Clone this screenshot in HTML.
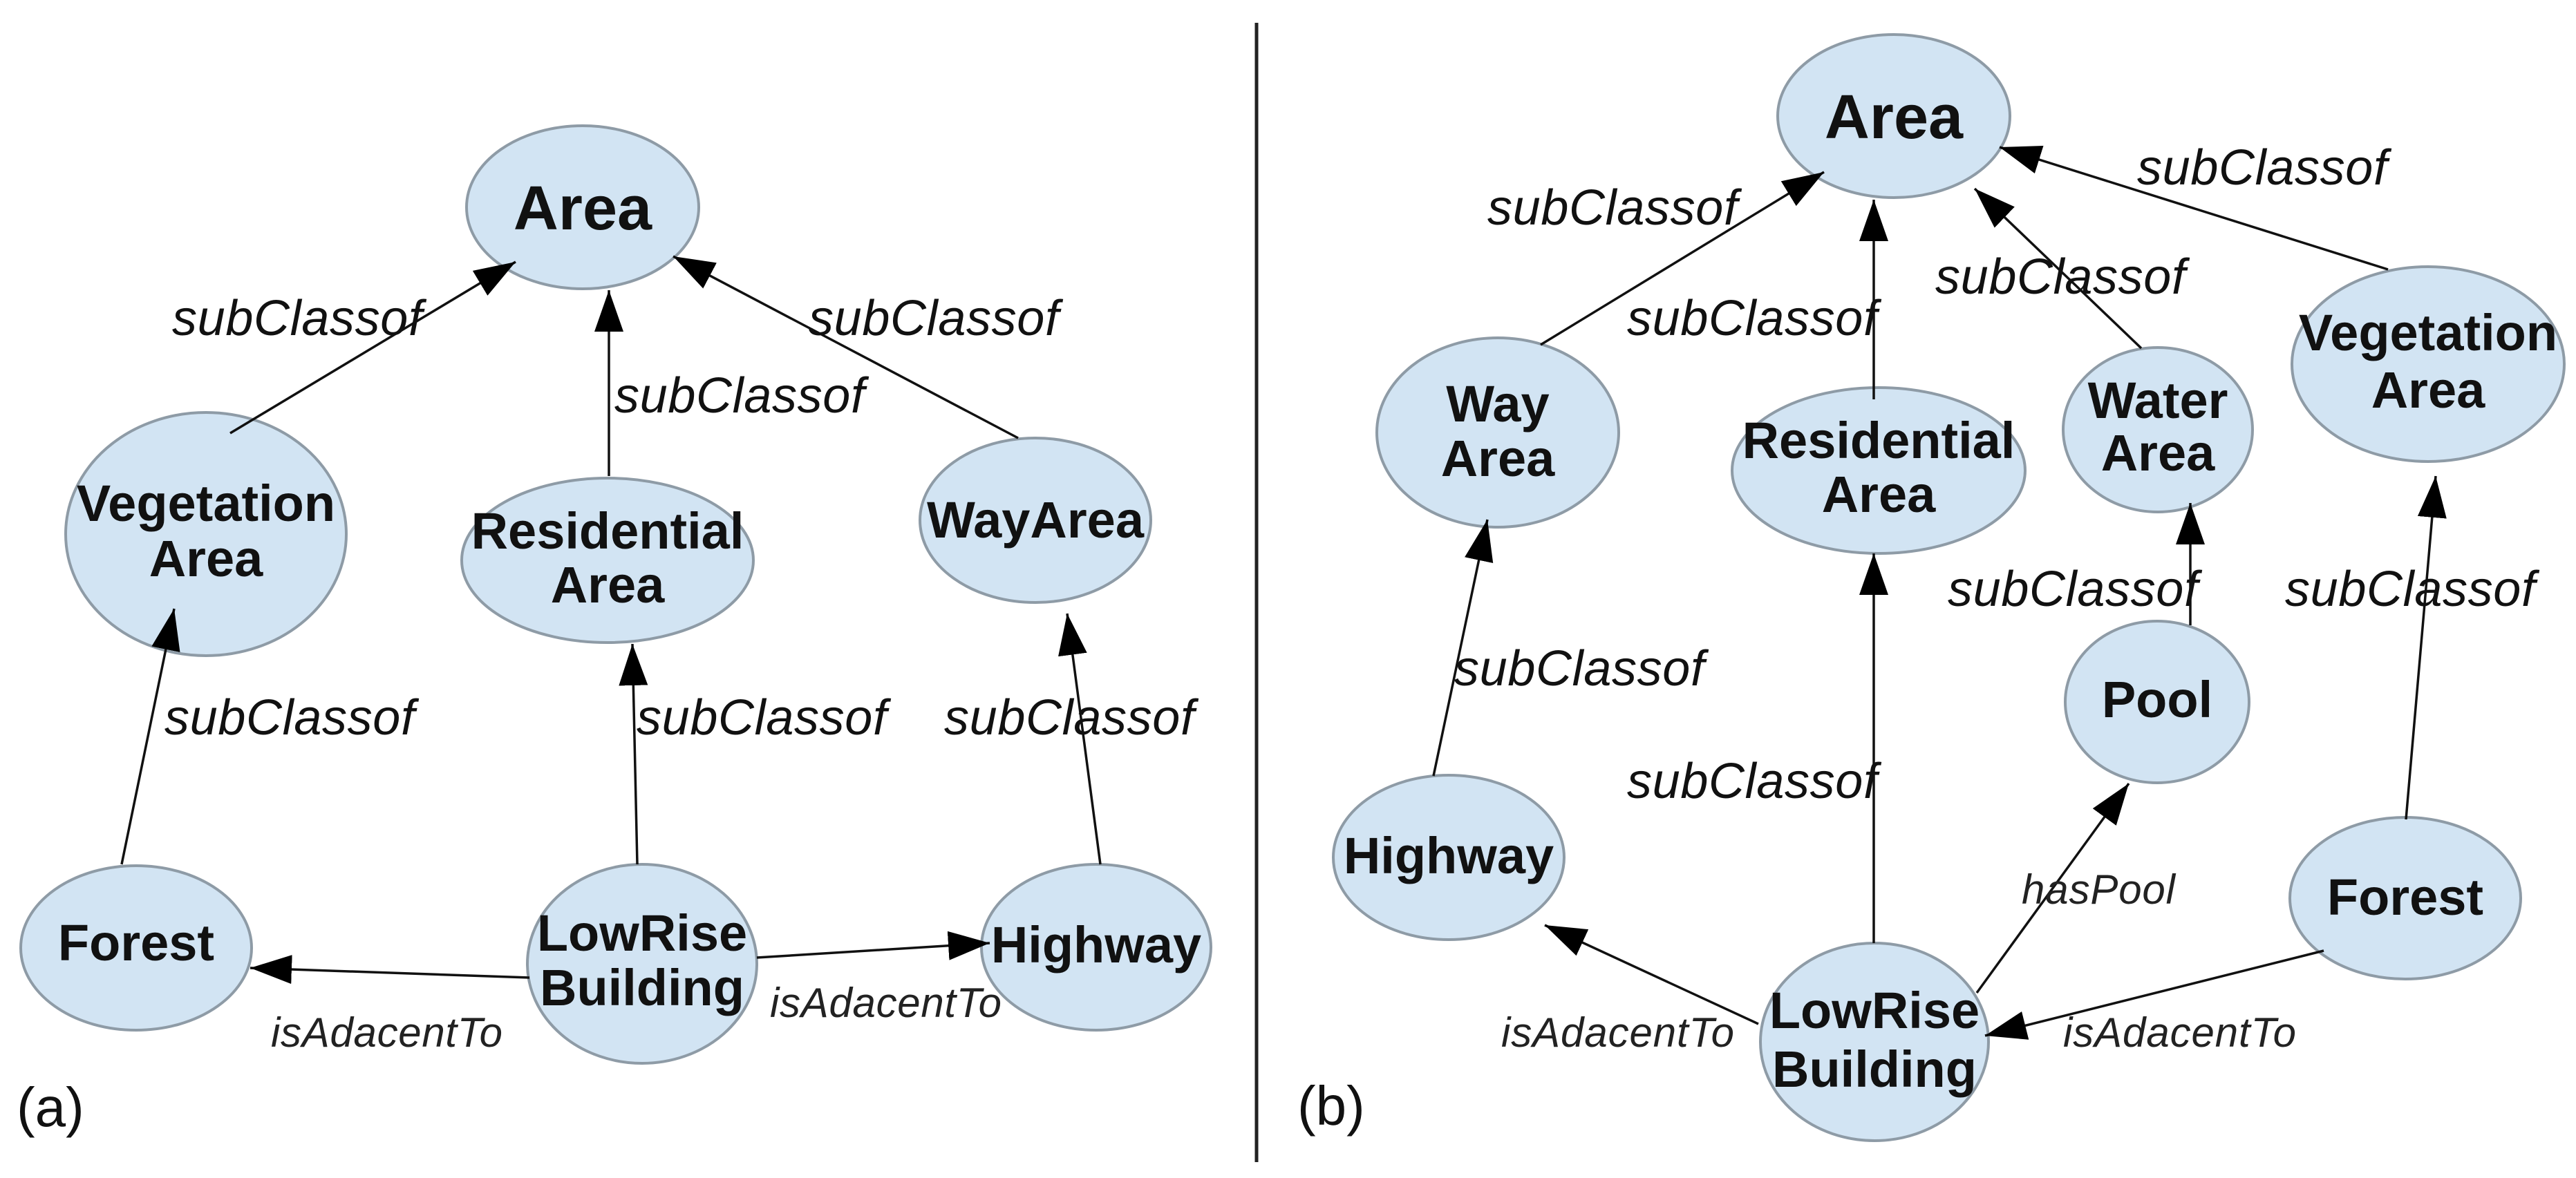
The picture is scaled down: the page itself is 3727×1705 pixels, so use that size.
<!DOCTYPE html>
<html><head><meta charset="utf-8"><style>
html,body{margin:0;padding:0;background:#fff;}
svg{display:block;}
.n{fill:#d2e4f3;stroke:#8e9ba6;stroke-width:4;}
.t{font-family:"Liberation Sans",sans-serif;font-weight:bold;font-size:74px;fill:#111;text-anchor:middle;}
.big{font-size:90px;}
.e{stroke:#111;stroke-width:3.5;fill:none;marker-end:url(#ah);}
.l{font-family:"Liberation Sans",sans-serif;font-style:italic;font-size:72px;fill:#111;}
.s{font-size:60px;fill:#222;}
.p{font-family:"Liberation Sans",sans-serif;font-size:80px;fill:#111;}
</style></head><body>
<svg width="3727" height="1705" viewBox="0 0 3727 1705" xmlns="http://www.w3.org/2000/svg">
<defs>
<marker id="ah" markerUnits="userSpaceOnUse" markerWidth="62" markerHeight="44" refX="60" refY="21" orient="auto">
<path d="M0,0 L60,21 L0,42 z" fill="#000"/>
</marker>
</defs>
<rect width="3727" height="1705" fill="#fff"/>
<line x1="1818" y1="33" x2="1818" y2="1682" stroke="#222" stroke-width="5"/>

<!-- LEFT PANEL -->
<ellipse class="n" cx="843" cy="300" rx="168" ry="118"/>
<ellipse class="n" cx="298" cy="773" rx="203" ry="176"/>
<ellipse class="n" cx="879" cy="811" rx="211" ry="119"/>
<ellipse class="n" cx="1498" cy="753" rx="167" ry="119"/>
<ellipse class="n" cx="197" cy="1372" rx="167" ry="119"/>
<ellipse class="n" cx="929" cy="1395" rx="166" ry="144"/>
<ellipse class="n" cx="1586" cy="1371" rx="166" ry="120"/>

<line class="e" x1="333" y1="627" x2="746" y2="379"/>
<line class="e" x1="881" y1="689" x2="881" y2="420"/>
<line class="e" x1="1473" y1="634" x2="974" y2="371"/>
<line class="e" x1="176" y1="1251" x2="252" y2="881"/>
<line class="e" x1="922" y1="1251" x2="915" y2="932"/>
<line class="e" x1="1592" y1="1251" x2="1544" y2="888"/>
<line class="e" x1="766" y1="1415" x2="362" y2="1401"/>
<line class="e" x1="1095" y1="1386" x2="1432" y2="1365"/>

<text class="t big" x="843" y="332">Area</text>
<text class="t" x="298" y="754">Vegetation</text>
<text class="t" x="298" y="834">Area</text>
<text class="t" x="879" y="794">Residential</text>
<text class="t" x="879" y="872">Area</text>
<text class="t" x="1498" y="778">WayArea</text>
<text class="t" x="197" y="1390">Forest</text>
<text class="t" x="929" y="1376">LowRise</text>
<text class="t" x="929" y="1455">Building</text>
<text class="t" x="1586" y="1393">Highway</text>

<text class="l" x="249" y="485" textLength="362">subClassof</text>
<text class="l" x="889" y="597" textLength="362">subClassof</text>
<text class="l" x="1170" y="485" textLength="362">subClassof</text>
<text class="l" x="238" y="1063" textLength="362">subClassof</text>
<text class="l" x="921" y="1063" textLength="362">subClassof</text>
<text class="l" x="1366" y="1063" textLength="362">subClassof</text>
<text class="l s" x="392" y="1515" textLength="335">isAdacentTo</text>
<text class="l s" x="1114" y="1472" textLength="335">isAdacentTo</text>
<text class="p" x="24" y="1630">(a)</text>

<!-- RIGHT PANEL -->
<ellipse class="n" cx="2740" cy="168" rx="168" ry="118"/>
<ellipse class="n" cx="2167" cy="626" rx="175" ry="137"/>
<ellipse class="n" cx="2718" cy="681" rx="212" ry="120"/>
<ellipse class="n" cx="3122" cy="622" rx="137" ry="119"/>
<ellipse class="n" cx="3513" cy="527" rx="197" ry="141"/>
<ellipse class="n" cx="3121" cy="1016" rx="133" ry="117"/>
<ellipse class="n" cx="2096" cy="1241" rx="167" ry="119"/>
<ellipse class="n" cx="3480" cy="1300" rx="167" ry="117"/>
<ellipse class="n" cx="2712" cy="1508" rx="165" ry="143"/>

<line class="e" x1="2229" y1="499" x2="2639" y2="249"/>
<line class="e" x1="2711" y1="578" x2="2711" y2="289"/>
<line class="e" x1="3098" y1="504" x2="2857" y2="273"/>
<line class="e" x1="3455" y1="390" x2="2893" y2="213"/>
<line class="e" x1="2074" y1="1123" x2="2152" y2="752"/>
<line class="e" x1="2711" y1="1365" x2="2711" y2="801"/>
<line class="e" x1="3169" y1="905" x2="3169" y2="728"/>
<line class="e" x1="3481" y1="1186" x2="3524" y2="689"/>
<line class="e" x1="2860" y1="1437" x2="3080" y2="1134"/>
<line class="e" x1="2544" y1="1482" x2="2235" y2="1339"/>
<line class="e" x1="3362" y1="1376" x2="2872" y2="1499"/>

<text class="t big" x="2740" y="200">Area</text>
<text class="t" x="2167" y="610">Way</text>
<text class="t" x="2167" y="689">Area</text>
<text class="t" x="2718" y="663">Residential</text>
<text class="t" x="2718" y="741">Area</text>
<text class="t" x="3122" y="605">Water</text>
<text class="t" x="3122" y="681">Area</text>
<text class="t" x="3513" y="507">Vegetation</text>
<text class="t" x="3513" y="590">Area</text>
<text class="t" x="3121" y="1038">Pool</text>
<text class="t" x="2096" y="1264">Highway</text>
<text class="t" x="3480" y="1324">Forest</text>
<text class="t" x="2712" y="1488">LowRise</text>
<text class="t" x="2712" y="1573">Building</text>

<text class="l" x="2152" y="325" textLength="362">subClassof</text>
<text class="l" x="2354" y="485" textLength="362">subClassof</text>
<text class="l" x="2800" y="425" textLength="362">subClassof</text>
<text class="l" x="3092" y="267" textLength="362">subClassof</text>
<text class="l" x="2818" y="877" textLength="362">subClassof</text>
<text class="l" x="3306" y="877" textLength="362">subClassof</text>
<text class="l" x="2104" y="992" textLength="362">subClassof</text>
<text class="l" x="2354" y="1155" textLength="362">subClassof</text>
<text class="l s" x="2925" y="1308" textLength="222">hasPool</text>
<text class="l s" x="2172" y="1515" textLength="337">isAdacentTo</text>
<text class="l s" x="2985" y="1515" textLength="337">isAdacentTo</text>
<text class="p" x="1877" y="1628">(b)</text>
</svg>
</body></html>
